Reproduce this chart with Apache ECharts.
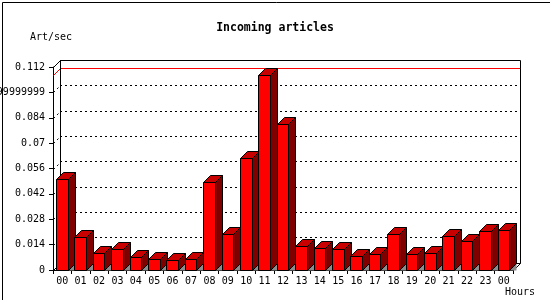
<!DOCTYPE html>
<html>
<head>
<meta charset="utf-8">
<script src="https://cdn.jsdelivr.net/npm/echarts@6/dist/echarts.min.js"></script>
<style>
html,body{margin:0;padding:0;background:#fff;}
#chart{width:550px;height:300px;}
</style>
</head>
<body>
<div id="chart"></div>
<script>
const categories = ['00','01','02','03','04','05','06','07','08','09','10','11','12','13','14','15','16','17','18','19','20','21','22','23','00'];
const artPerSec = [0.0504,0.0180,0.0092,0.0114,0.0070,0.0059,0.0053,0.0063,0.0486,0.0196,0.0620,0.1076,0.0807,0.0130,0.0119,0.0114,0.0075,0.0091,0.0196,0.0086,0.0092,0.0185,0.0158,0.0213,0.0218];
const yTickValues = [0,0.014,0.028,0.042,0.056,0.07,0.084,0.098,0.112];
const yTickLabels = ['0','0.014','0.028','0.042','0.056','0.07','0.084','0.09799999999999999','0.112'];
const titleText = 'Incoming articles';
const yName = 'Art/sec';
const xName = 'Hours';

const FONT = '"DejaVu Sans Mono", "Liberation Mono", monospace';
const D = 7;
const yMax = yTickValues[yTickValues.length - 1];
const yStep = yTickValues[1] - yTickValues[0];
const maxVal = Math.max.apply(null, artPerSec);
const px = v => Math.round(v) + 0.5;

const chart = echarts.init(document.getElementById('chart'), null, {renderer: 'canvas'});

const barData = artPerSec.map((v, i) => [i, v]);

chart.setOption({
  backgroundColor: '#ffffff',
  animation: false,
  title: {
    text: titleText,
    left: 'center',
    top: 17,
    textStyle: {fontFamily: FONT, fontSize: 11.5, fontWeight: 'bold', color: '#000'}
  },
  grid: [
    {left: 53, top: 67, width: 460, height: 203, containLabel: false, outerBoundsMode: 'none'},
    {left: 60, top: 60, width: 460, height: 203, containLabel: false, outerBoundsMode: 'none'}
  ],
  xAxis: [
    {
      type: 'category', gridIndex: 0, data: categories, boundaryGap: true,
      axisLine: {show: true, lineStyle: {color: '#000', width: 1}},
      axisTick: {show: true, length: 4, lineStyle: {color: '#000'}},
      axisLabel: {interval: 0, margin: 6, color: '#000', fontFamily: FONT, fontSize: 10},
      splitLine: {show: false}
    },
    {
      type: 'category', gridIndex: 1, data: categories, boundaryGap: true, show: false
    }
  ],
  yAxis: [
    {
      type: 'value', gridIndex: 0, min: 0, max: yMax, interval: yStep,
      axisLine: {show: true, lineStyle: {color: '#000', width: 1}},
      axisTick: {show: true, length: 4, lineStyle: {color: '#000'}},
      axisLabel: {
        margin: 8, color: '#000', fontFamily: FONT, fontSize: 10,
        formatter: (val, idx) => yTickLabels[idx]
      },
      splitLine: {show: false}
    },
    {
      type: 'value', gridIndex: 1, min: 0, max: yMax, interval: yStep,
      axisLine: {show: false}, axisTick: {show: false}, axisLabel: {show: false},
      splitLine: {show: true, lineStyle: {color: '#000', width: 1, type: [2, 3]}}
    }
  ],
  series: [
    {
      type: 'custom', xAxisIndex: 1, yAxisIndex: 1, z: 1, silent: true,
      data: [[0, maxVal]],
      renderItem: function (params, api) {
        const cs = params.coordSys;
        const x0 = px(cs.x), x1 = px(cs.x + cs.width);
        const yTop = px(cs.y), yBot = px(cs.y + cs.height);
        const children = [];
        yTickValues.forEach(function (tv, k) {
          if (k === 0 || k === yTickValues.length - 1) return;
          const y = px(api.coord([0, tv])[1]);
          children.push({type: 'line', shape: {x1: x0 - D, y1: y + D, x2: x0, y2: y},
            style: {stroke: '#000', lineWidth: 1, lineDash: [2, 3]}});
        });
        const ym = px(api.coord([0, api.value(1)])[1]);
        children.push({type: 'polyline', shape: {points: [[x0 - D, ym + D], [x0, ym], [x1, ym]]},
          style: {stroke: '#ff0000', lineWidth: 1, fill: null}});
        children.push({type: 'rect', shape: {x: x0, y: yTop, width: x1 - x0, height: yBot - yTop},
          style: {stroke: '#000', lineWidth: 1, fill: null}});
        children.push({type: 'line', shape: {x1: x0 - D, y1: yTop + D, x2: x0, y2: yTop},
          style: {stroke: '#000', lineWidth: 1}});
        children.push({type: 'line', shape: {x1: x0 - D, y1: yBot + D, x2: x0, y2: yBot},
          style: {stroke: '#000', lineWidth: 1}});
        children.push({type: 'line', shape: {x1: x1 - D, y1: yBot + D, x2: x1, y2: yBot},
          style: {stroke: '#000', lineWidth: 1}});
        return {type: 'group', children: children};
      }
    },
    {
      type: 'custom', xAxisIndex: 0, yAxisIndex: 0, z: 3,
      data: barData,
      encode: {x: 0, y: 1},
      renderItem: function (params, api) {
        const c = api.coord([api.value(0), api.value(1)]);
        const c0 = api.coord([api.value(0), 0]);
        const bw = api.size([1, 0])[0];
        const s = c[0] - bw / 2;
        const x1 = px(s + bw * 0.16);
        const x2 = px(s + bw * 0.79);
        const yt = px(c[1]);
        const yb = px(c0[1]);
        const st = {stroke: '#000', lineWidth: 1};
        return {
          type: 'group',
          children: [
            {type: 'polygon', shape: {points: [[x2, yb], [x2 + D, yb - D], [x2 + D, yb]]},
              style: {fill: '#8c8c8c'}},
            {type: 'polygon', shape: {points: [[x2, yt], [x2 + D, yt - D], [x2 + D, yb - D], [x2, yb]]},
              style: Object.assign({fill: '#800000'}, st)},
            {type: 'polygon', shape: {points: [[x1, yt], [x1 + D, yt - D], [x2 + D, yt - D], [x2, yt]]},
              style: Object.assign({fill: '#c80000'}, st)},
            {type: 'rect', shape: {x: x1, y: yt, width: x2 - x1, height: yb - yt},
              style: Object.assign({fill: '#ff0000'}, st)}
          ]
        };
      }
    }
  ],
  graphic: [
    {type: 'text', left: 30, top: 32, style: {text: yName, fill: '#000', font: '10px ' + FONT}},
    {type: 'text', left: 505, top: 287, style: {text: xName, fill: '#000', font: '10px ' + FONT}},
    {type: 'rect', left: 0, top: 0, shape: {x: 0.5, y: 0.5, width: 549, height: 299},
      style: {fill: null, stroke: '#000', lineWidth: 1}, z: 100}
  ]
});
</script>
</body>
</html>
